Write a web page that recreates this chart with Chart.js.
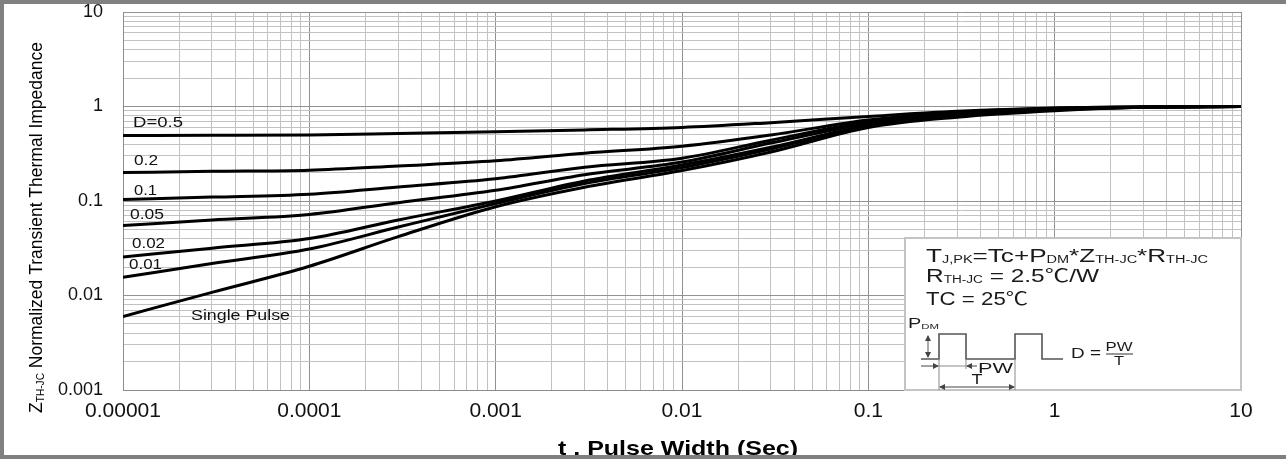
<!DOCTYPE html>
<html>
<head>
<meta charset="utf-8">
<script src="https://cdn.jsdelivr.net/npm/chart.js@4"></script>
<style>
  html, body { margin: 0; padding: 0; background: #fff; }
  #thermalChart { display: block; }
</style>
</head>
<body>
<canvas id="thermalChart" width="1286" height="459"></canvas>
<script>
// pulse width (s) and normalized Zth for each duty cycle
const pulseWidth = [0.00001, 0.00003, 0.0001, 0.0003, 0.001, 0.003, 0.01, 0.03, 0.1, 0.3, 1, 3, 10];
const zD50  = [0.493, 0.495, 0.50, 0.518, 0.54, 0.565, 0.60, 0.675, 0.785, 0.89, 0.965, 0.99, 1.0];
const zD20  = [0.20, 0.206, 0.212, 0.235, 0.266, 0.32, 0.38, 0.50, 0.72, 0.87, 0.96, 0.99, 1.0];
const zD10  = [0.104, 0.110, 0.118, 0.141, 0.172, 0.228, 0.284, 0.44, 0.69, 0.85, 0.95, 0.99, 1.0];
const zD05  = [0.055, 0.063, 0.072, 0.096, 0.130, 0.19, 0.258, 0.41, 0.66, 0.83, 0.94, 0.985, 1.0];
const zD02  = [0.0255, 0.0317, 0.040, 0.063, 0.100, 0.163, 0.24, 0.37, 0.63, 0.80, 0.93, 0.98, 1.0];
const zD01  = [0.0156, 0.0218, 0.031, 0.053, 0.094, 0.153, 0.226, 0.355, 0.62, 0.79, 0.92, 0.98, 1.0];
const zSingle = [0.0060, 0.0108, 0.0204, 0.042, 0.087, 0.14, 0.21, 0.33, 0.60, 0.77, 0.90, 0.98, 1.0];

const curveNames = ['D=0.5', '0.2', '0.1', '0.05', '0.02', '0.01', 'Single Pulse'];
const curveValues = [zD50, zD20, zD10, zD05, zD02, zD01, zSingle];

const xTickLabels = ['0.00001', '0.0001', '0.001', '0.01', '0.1', '1', '10'];
const yTickLabels = ['0.001', '0.01', '0.1', '1', '10'];

const FONT = '"Liberation Sans", Arial, "Noto Sans CJK SC", sans-serif';

// draws a line of text made of normal / subscript runs, stretched to a given width
function drawRuns(ctx, parts, x, y, size, width, align, weight) {
    ctx.save();
    const w = weight ? weight + ' ' : '';
    let total = 0;
    const items = parts.map(p => {
        const fs = p.sub ? Math.round(size * 0.58) : size;
        const font = w + fs + 'px ' + FONT;
        ctx.font = font;
        const m = ctx.measureText(p.t).width;
        total += m;
        return { t: p.t, font: font, m: m, dy: p.sub ? size * 0.08 : 0 };
    });
    const sx = width ? width / total : 1;
    ctx.translate(x, y);
    ctx.scale(sx, 1);
    let cx = align === 'center' ? -total / 2 : (align === 'right' ? -total : 0);
    ctx.textAlign = 'left';
    ctx.textBaseline = 'alphabetic';
    items.forEach(it => {
        ctx.font = it.font;
        ctx.fillText(it.t, cx, it.dy);
        cx += it.m;
    });
    ctx.restore();
}

function arrowHead(ctx, x, y, dir) {
    const L = 6, H = 3;
    ctx.beginPath();
    if (dir === 'r') { ctx.moveTo(x, y); ctx.lineTo(x - L, y - H); ctx.lineTo(x - L, y + H); }
    if (dir === 'l') { ctx.moveTo(x, y); ctx.lineTo(x + L, y - H); ctx.lineTo(x + L, y + H); }
    if (dir === 'u') { ctx.moveTo(x, y); ctx.lineTo(x - H, y + L); ctx.lineTo(x + H, y + L); }
    if (dir === 'd') { ctx.moveTo(x, y); ctx.lineTo(x - H, y - L); ctx.lineTo(x + H, y - L); }
    ctx.closePath();
    ctx.fill();
}

function logTicks(labels) {
    const ticks = [];
    labels.forEach((l, i) => {
        const d = parseFloat(l);
        const last = i === labels.length - 1;
        for (let m = 1; m <= (last ? 1 : 9); m++) {
            ticks.push({ value: d * m, major: m === 1 });
        }
    });
    return ticks;
}

function decadeLabel(labels, value) {
    const hit = labels.find(l => Math.abs(parseFloat(l) - value) / value < 1e-6);
    return hit === undefined ? '' : hit;
}

const gridColor = (c) => (c.tick && c.tick.major) ? '#929292' : '#c2c2c2';

// curve labels, titles, formula box, frame
const annotations = {
    id: 'annotations',
    afterDatasetsDraw(chart) {
        const { ctx, chartArea } = chart;
        const L = chartArea.left, T = chartArea.top;

        // curve names
        const labelPos = [[10, 115], [11, 153], [11, 183], [7, 207], [9, 236], [6, 257], [68, 308]];
        const labelWidth = [50, 24, 23, 34, 33, 33, 99];
        ctx.fillStyle = '#111';
        curveNames.forEach((name, i) => {
            drawRuns(ctx, [{ t: name }], L + labelPos[i][0], T + labelPos[i][1], 14, labelWidth[i], 'left');
        });

        // formula box in the lower right corner
        const bx = chartArea.right - 337, by = chartArea.bottom - 153;
        ctx.save();
        ctx.fillStyle = '#fff';
        ctx.fillRect(bx, by, 337, 153);
        ctx.strokeStyle = '#c4c4c4';
        ctx.lineWidth = 2;
        ctx.strokeRect(bx + 1, by + 1, 336, 152);

        ctx.fillStyle = '#1a1a1a';
        drawRuns(ctx, [{ t: 'T' }, { t: 'J,PK', sub: true }, { t: '=Tc+P' }, { t: 'DM', sub: true },
            { t: '*Z' }, { t: 'TH-JC', sub: true }, { t: '*R' }, { t: 'TH-JC', sub: true }],
            bx + 22, by + 25, 18, 282, 'left');
        drawRuns(ctx, [{ t: 'R' }, { t: 'TH-JC', sub: true }, { t: ' = 2.5℃/W' }], bx + 22, by + 45, 18, 173, 'left');
        drawRuns(ctx, [{ t: 'TC = 25℃' }], bx + 22, by + 68, 18, 102, 'left');

        // pulse train sketch
        ctx.strokeStyle = '#555';
        ctx.fillStyle = '#444';
        ctx.lineWidth = 1.6;
        ctx.beginPath();
        const wave = [[17, 122], [35, 122], [35, 97], [62, 97], [62, 122], [111, 122], [111, 97], [138, 97], [138, 122], [159, 122]];
        wave.forEach((p, i) => i ? ctx.lineTo(bx + p[0], by + p[1]) : ctx.moveTo(bx + p[0], by + p[1]));
        ctx.stroke();

        // P_DM height arrow
        ctx.lineWidth = 1;
        ctx.beginPath();
        ctx.moveTo(bx + 24, by + 99); ctx.lineTo(bx + 24, by + 120);
        ctx.stroke();
        arrowHead(ctx, bx + 24, by + 98, 'u');
        arrowHead(ctx, bx + 24, by + 121, 'd');

        // extension lines
        ctx.strokeStyle = '#8a8a8a';
        ctx.beginPath();
        ctx.moveTo(bx + 35, by + 122); ctx.lineTo(bx + 35, by + 153);
        ctx.moveTo(bx + 62, by + 122); ctx.lineTo(bx + 62, by + 132);
        ctx.moveTo(bx + 111, by + 122); ctx.lineTo(bx + 111, by + 153);
        ctx.moveTo(bx + 35, by + 129); ctx.lineTo(bx + 62, by + 129);
        ctx.stroke();

        // PW dimension
        ctx.strokeStyle = '#444';
        ctx.beginPath();
        ctx.moveTo(bx + 17, by + 129); ctx.lineTo(bx + 34, by + 129);
        ctx.moveTo(bx + 63, by + 129); ctx.lineTo(bx + 73, by + 129);
        ctx.stroke();
        arrowHead(ctx, bx + 35, by + 129, 'r');
        arrowHead(ctx, bx + 62, by + 129, 'l');

        // T dimension
        ctx.beginPath();
        ctx.moveTo(bx + 36, by + 150); ctx.lineTo(bx + 110, by + 150);
        ctx.stroke();
        arrowHead(ctx, bx + 35, by + 150, 'l');
        arrowHead(ctx, bx + 111, by + 150, 'r');

        ctx.fillStyle = '#1a1a1a';
        drawRuns(ctx, [{ t: 'P' }, { t: 'DM', sub: true }], bx + 4, by + 91, 14, 31, 'left');
        drawRuns(ctx, [{ t: 'PW' }], bx + 74, by + 136, 14, 35, 'left');
        drawRuns(ctx, [{ t: 'T' }], bx + 73, by + 147, 14, 11, 'center');
        drawRuns(ctx, [{ t: 'D =' }], bx + 167, by + 121, 14, 30, 'left');
        drawRuns(ctx, [{ t: 'PW' }], bx + 215, by + 114, 12, 27, 'center');
        drawRuns(ctx, [{ t: 'T' }], bx + 215, by + 128, 12, 10, 'center');
        ctx.strokeStyle = '#333';
        ctx.beginPath();
        ctx.moveTo(bx + 202, by + 117); ctx.lineTo(bx + 229, by + 117);
        ctx.stroke();
        ctx.restore();
    },
    afterDraw(chart) {
        const { ctx, width, height } = chart;
        ctx.save();
        ctx.fillStyle = '#000';
        // y axis title
        ctx.save();
        ctx.translate(42, 227.5);
        ctx.rotate(-Math.PI / 2);
        drawRuns(ctx, [{ t: 'Z' }, { t: 'TH-JC', sub: true }, { t: ' Normalized Transient Thermal Impedance' }], 0, 0, 19, 371, 'center');
        ctx.restore();
        // x axis title
        drawRuns(ctx, [{ t: 't , Pulse Width (Sec)' }], 678, 455, 21, 240, 'center', 'bold');
        // picture frame
        ctx.fillStyle = '#808080';
        ctx.fillRect(0, 0, width, 4);
        ctx.fillRect(0, 0, 4, height);
        ctx.fillRect(0, height - 4, width, 4);
        ctx.restore();
    }
};

const thermalData = {
    datasets: curveValues.map((vals, i) => ({
        label: curveNames[i],
        data: pulseWidth.map((t, k) => ({ x: t, y: vals[k] })),
        borderColor: '#000',
        borderWidth: 3,
        pointRadius: 0,
        fill: false,
        cubicInterpolationMode: 'monotone'
    }))
};

const thermalConfig = {
    type: 'line',
    data: thermalData,
    options: {
        responsive: false,
        animation: false,
        devicePixelRatio: 1,
        layout: { padding: { left: 0, top: 12, right: 45, bottom: 0 } },
        plugins: { legend: { display: false }, tooltip: { enabled: false } },
        scales: {
            x: {
                type: 'logarithmic',
                min: 0.00001,
                max: 10,
                afterBuildTicks: (s) => { s.ticks = logTicks(xTickLabels); },
                afterFit: (s) => { s.height = 69; s.paddingLeft = 0; s.paddingRight = 0; },
                grid: { color: gridColor, lineWidth: 1, drawTicks: false },
                border: { color: '#8c8c8c', width: 1 },
                ticks: {
                    autoSkip: false,
                    maxRotation: 0,
                    padding: 9,
                    color: '#111',
                    font: { family: FONT, size: 21 },
                    callback: (v) => decadeLabel(xTickLabels, v)
                }
            },
            y: {
                type: 'logarithmic',
                min: 0.001,
                max: 10,
                afterBuildTicks: (s) => { s.ticks = logTicks(yTickLabels); },
                afterFit: (s) => { s.width = 123; s.paddingTop = 0; s.paddingBottom = 0; },
                grid: { color: gridColor, lineWidth: 1, drawTicks: false },
                border: { color: '#8c8c8c', width: 1 },
                ticks: {
                    autoSkip: false,
                    padding: 20,
                    color: '#111',
                    font: { family: FONT, size: 18 },
                    callback: (v) => decadeLabel(yTickLabels, v)
                }
            }
        }
    },
    plugins: [annotations]
};

let thermalChart = new Chart(document.getElementById('thermalChart'), thermalConfig);
</script>
</body>
</html>
